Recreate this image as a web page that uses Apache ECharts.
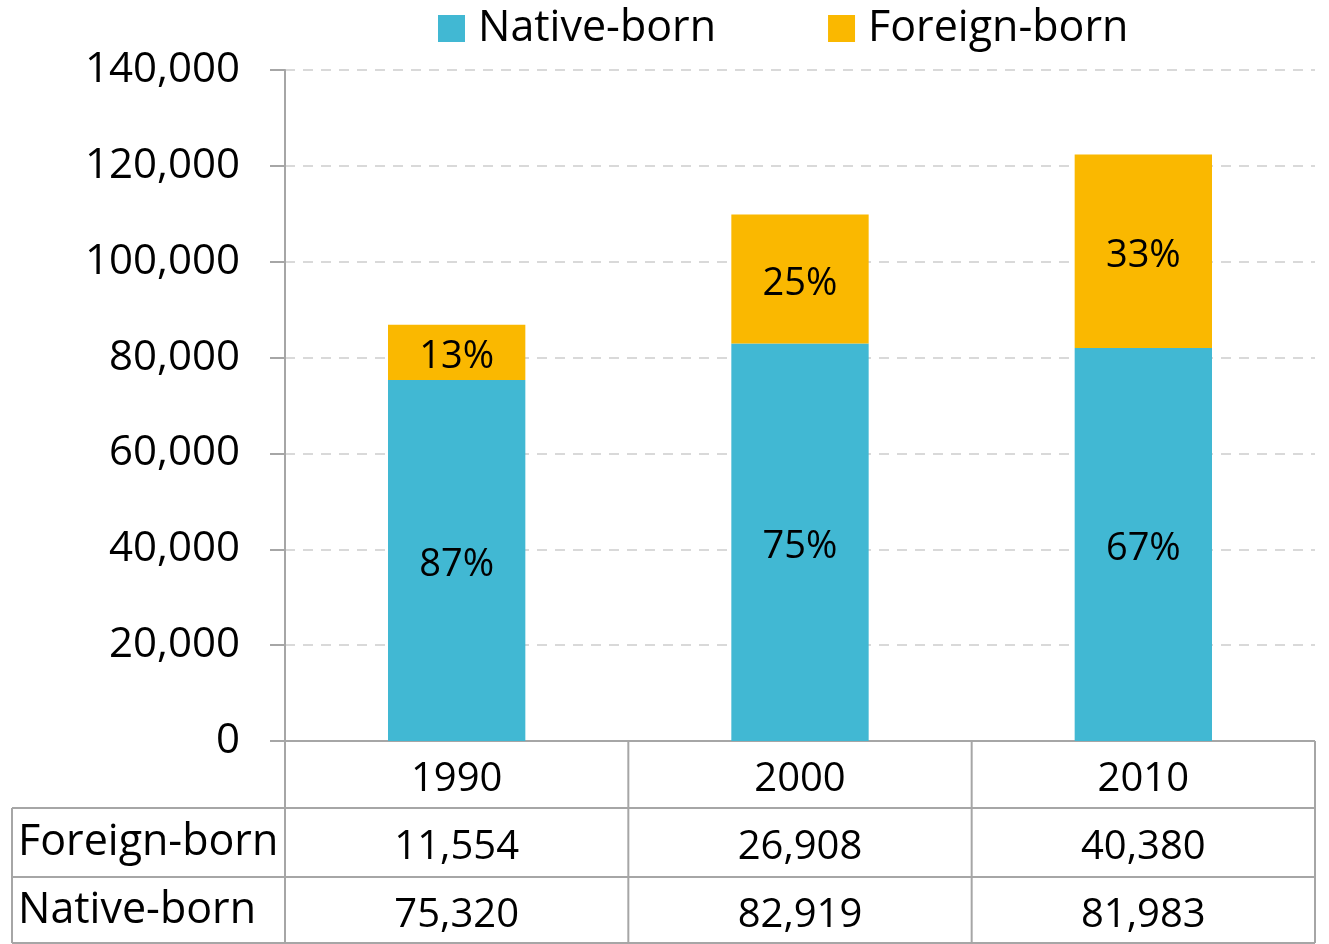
<!DOCTYPE html>
<html>
<head>
<meta charset="utf-8">
<script src="https://cdn.jsdelivr.net/npm/echarts@6/dist/echarts.min.js"></script>
<style>
  html, body { margin: 0; padding: 0; background: #fff; }
  #chart { width: 1329px; height: 944px; }
</style>
</head>
<body>
<div id="chart"></div>
<script>
// data
const years = ['1990', '2000', '2010'];
const nativeBorn = [75320, 82919, 81983];
const foreignBorn = [11554, 26908, 40380];
const nativePct = [87, 75, 67];
const foreignPct = [13, 25, 33];

const FONT = '"Open Sans", sans-serif';
const BLUE = '#41b8d3';
const GOLD = '#fab800';
const LINE = '#a6a6a6';

const grid = { left: 285, right: 14, top: 70, bottom: 203 };
const rowH = [67, 69, 67];   // year row, foreign row, native row
const tableLeft = 12;

const fmt = v => v.toLocaleString('en-US');

const chart = echarts.init(document.getElementById('chart'));

chart.setOption({
  animation: false,
  textStyle: { fontFamily: FONT, color: '#000' },
  legend: {
    top: 2,
    left: 433,
    icon: 'rect',
    itemWidth: 27,
    itemHeight: 27,
    itemGap: 112,
    textStyle: { fontSize: 43, color: '#000', fontFamily: FONT, padding: [0, 0, 0, 8] },
    data: ['Native-born', 'Foreign-born']
  },
  grid: grid,
  xAxis: {
    type: 'category',
    data: years,
    axisLine: { show: false },
    axisTick: { show: false },
    axisLabel: { show: false }
  },
  yAxis: {
    type: 'value',
    min: 0,
    max: 140000,
    interval: 20000,
    axisLine: { show: true, lineStyle: { color: LINE, width: 2 } },
    axisTick: { show: true, length: 15, lineStyle: { color: LINE, width: 2 } },
    axisLabel: {
      margin: 45,
      fontSize: 42,
      color: '#000',
      fontFamily: FONT,
      padding: [8, 0, 0, 0],
      formatter: v => fmt(v)
    },
    splitLine: { lineStyle: { color: '#d9d9d9', type: [10, 8], width: 2 } }
  },
  series: [
    {
      name: 'Native-born',
      type: 'bar',
      stack: 'total',
      barWidth: '40%',
      itemStyle: { color: BLUE },
      label: {
        show: true,
        position: 'inside',
        offset: [0, 5],
        fontSize: 38,
        color: '#000',
        fontFamily: FONT,
        formatter: p => nativePct[p.dataIndex] + '%'
      },
      data: nativeBorn
    },
    {
      name: 'Foreign-born',
      type: 'bar',
      stack: 'total',
      barWidth: '40%',
      itemStyle: { color: GOLD },
      label: {
        show: true,
        position: 'inside',
        offset: [0, 5],
        fontSize: 38,
        color: '#000',
        fontFamily: FONT,
        formatter: p => foreignPct[p.dataIndex] + '%'
      },
      data: foreignBorn
    }
  ]
});

// data table under the plot, laid out from the category axis
function drawTable() {
  const centers = years.map((_, i) => chart.convertToPixel({ xAxisIndex: 0 }, i));
  const step = centers.length > 1 ? centers[1] - centers[0] : 0;
  const x0 = centers[0] - step / 2;
  const x1 = centers[centers.length - 1] + step / 2;
  const y0 = chart.convertToPixel({ yAxisIndex: 0 }, 0);
  const yRow1 = y0 + rowH[0];
  const yRow2 = yRow1 + rowH[1];
  const yRow3 = yRow2 + rowH[2] - 1;

  const els = [];
  const line = (xa, ya, xb, yb) => els.push({
    type: 'line', silent: true,
    shape: { x1: xa, y1: ya, x2: xb, y2: yb },
    style: { stroke: LINE, lineWidth: 2 }
  });
  const text = (t, x, y, align, size) => els.push({
    type: 'text', silent: true, x: x, y: y,
    style: { text: t, fill: '#000', font: size + 'px ' + FONT, align: align, verticalAlign: 'middle' }
  });

  // horizontals
  line(x0 - 15, y0, x1, y0);
  line(tableLeft, yRow1, x1, yRow1);
  line(tableLeft, yRow2, x1, yRow2);
  line(tableLeft, yRow3, x1, yRow3);
  // verticals
  for (let i = 0; i <= years.length; i++) {
    const x = x0 + step * i;
    line(x, y0, x, yRow3);
  }
  line(tableLeft, yRow1, tableLeft, yRow3);

  years.forEach((yr, i) => {
    text(yr, centers[i], y0 + rowH[0] / 2 + 5, 'center', 40);
    text(fmt(foreignBorn[i]), centers[i], yRow1 + rowH[1] / 2 + 5, 'center', 40);
    text(fmt(nativeBorn[i]), centers[i], yRow2 + rowH[2] / 2 + 5, 'center', 40);
  });
  text('Foreign-born', tableLeft + 6, yRow1 + rowH[1] / 2, 'left', 43);
  text('Native-born', tableLeft + 6, yRow2 + rowH[2] / 2, 'left', 43);

  chart.setOption({ graphic: { elements: els } });
}

drawTable();
</script>
</body>
</html>
